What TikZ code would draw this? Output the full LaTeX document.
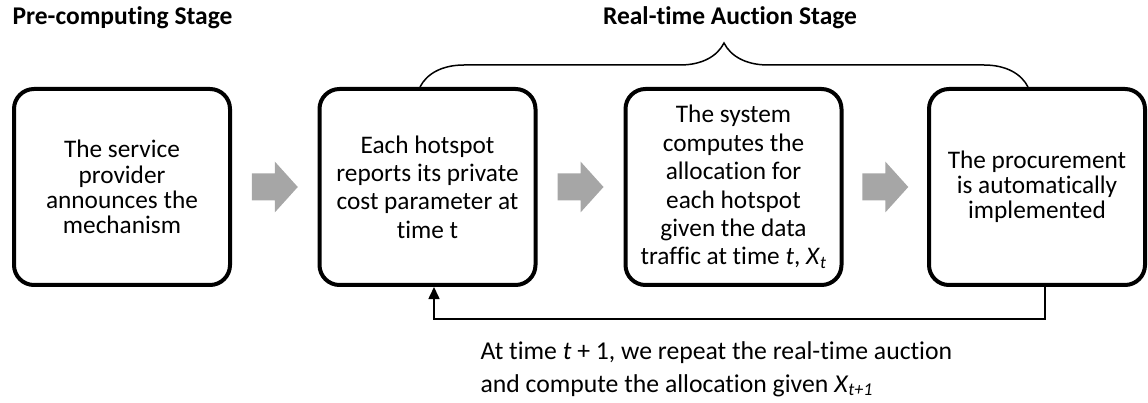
\documentclass[tikz,border=0pt]{standalone}
\usepackage{fontspec}
\setmainfont{Carlito}[Ligatures=NoCommon]
\usetikzlibrary{arrows.meta,calc,decorations.pathreplacing}
\definecolor{blockgray}{HTML}{A6A6A6}

\begin{document}
\begin{tikzpicture}[x=1pt,y=-1pt,
  stagebox/.style={draw,line width=4pt,rounded corners=20pt,minimum width=216pt,minimum height=196pt,align=center,inner sep=2pt,font=\fontsize{25.3}{28.4}\selectfont},
  tightbox/.style={stagebox,font=\fontsize{25.3}{25.2}\selectfont},
  stagetitle/.style={font=\fontsize{25.5}{28}\selectfont\bfseries},
  loopline/.style={line width=1.6pt,-{Triangle[length=12pt,width=11pt]}}]
  \useasboundingbox (0,0) rectangle (1148,403);

  % Stage titles
  \node[stagetitle,anchor=west] (pretitle) at (9,18) {Pre-computing Stage};
  \node[stagetitle] (rttitle) at (730,18) {Real-time Auction Stage};

  % Steps
  \node[tightbox] (announce) at (122,187) {The service\\provider\\announces the\\mechanism};
  \node[stagebox] (report) at (427.5,187) {Each hotspot\\reports its private\\cost parameter at\\time t};
  \node[stagebox] (compute) at (733.5,187) {The system\\computes the\\allocation for\\each hotspot\\given the data\\traffic at time \textit{t}, \textit{X}\textsubscript{\textit{t}}};
  \node[tightbox] (procure) at (1037,187) {The procurement\\is automatically\\implemented};

  % Grey block arrows between the steps
  \foreach \a/\b in {announce/report,report/compute,compute/procure}
    \fill[blockgray] ($(\a.east)!0.5!(\b.west)$) ++(-23,-13.5) -- ++(23,0) -- ++(0,-12)
      -- ++(23,25.5) -- ++(-23,25.5) -- ++(0,-12) -- ++(-23,0) -- cycle;

  % Brace over the real-time stage
  \draw[line width=1.5pt,decorate,decoration={brace,amplitude=44pt}]
    ([xshift=-7.5]report.north) -- ([xshift=-9]procure.north);

  % Loop back to the reporting step
  \draw[loopline] ([xshift=8]procure.south) -- ++(0,32) -| ([xshift=6.5]report.south);
  \node[anchor=west,align=left,font=\fontsize{25.7}{33}\selectfont] (repeat) at (477,369)
    {At time \textit{t} + 1, we repeat the real-time auction\\and compute the allocation given \textit{X}\textsubscript{\textit{t+1}}};
\end{tikzpicture}
\end{document}
